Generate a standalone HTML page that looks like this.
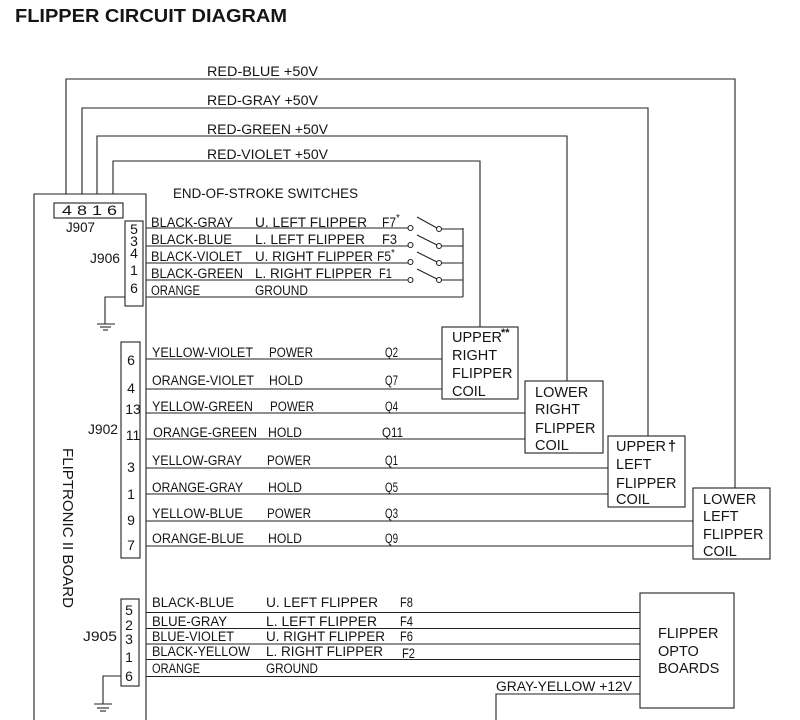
<!DOCTYPE html>
<html><head><meta charset="utf-8"><style>
html,body{margin:0;padding:0;background:#fff;}
svg{display:block;}
text{font-family:"Liberation Sans",sans-serif;fill:#151515;}
</style></head><body>
<svg width="800" height="720" viewBox="0 0 800 720" xmlns="http://www.w3.org/2000/svg">
<rect width="800" height="720" fill="#fff"/>
<text x="15" y="22" font-size="18" font-weight="bold" textLength="272" lengthAdjust="spacingAndGlyphs">FLIPPER CIRCUIT DIAGRAM</text>

<g fill="none" stroke="#222" stroke-width="1.1">
<polyline points="66,194 66,79 735,79 735,488"/>
<polyline points="82,194 82,108 648,108 648,436"/>
<polyline points="97,194 97,136 567,136 567,381"/>
<polyline points="113,194 113,161 480,161 480,327"/>
<polyline points="34,720 34,194 146,194 146,720"/>
<rect x="54" y="203" width="69" height="15"/>
<rect x="125" y="221" width="18" height="85"/>
<line x1="146" y1="228" x2="408" y2="228"/>
<line x1="146" y1="246" x2="408" y2="246"/>
<line x1="146" y1="263" x2="408" y2="263"/>
<line x1="146" y1="280" x2="408" y2="280"/>
<line x1="146" y1="297" x2="463" y2="297"/>
<line x1="463" y1="228" x2="463" y2="297"/>
<circle cx="410.5" cy="228" r="2.5"/><circle cx="439" cy="229" r="2.5"/>
<circle cx="410.5" cy="245" r="2.5"/><circle cx="439" cy="246" r="2.5"/>
<circle cx="410.5" cy="262" r="2.5"/><circle cx="439" cy="263" r="2.5"/>
<circle cx="410.5" cy="280" r="2.5"/><circle cx="439" cy="280" r="2.5"/>
<line x1="441.5" y1="229" x2="463" y2="229"/>
<line x1="441.5" y1="246" x2="463" y2="246"/>
<line x1="441.5" y1="263" x2="463" y2="263"/>
<line x1="441.5" y1="280" x2="463" y2="280"/>
<line x1="417" y1="217" x2="437" y2="228"/>
<line x1="417" y1="235" x2="437" y2="245"/>
<line x1="417" y1="252" x2="437" y2="262"/>
<line x1="417" y1="269" x2="437" y2="279"/>
<polyline points="125,297 105,297 105,324"/>
<line x1="97" y1="324" x2="115" y2="324"/>
<line x1="100" y1="327" x2="111" y2="327"/>
<line x1="103" y1="330" x2="108" y2="330"/>
<rect x="121" y="342" width="19" height="216"/>
<line x1="146" y1="359" x2="442" y2="359"/>
<line x1="146" y1="389" x2="442" y2="389"/>
<line x1="146" y1="413" x2="525" y2="413"/>
<line x1="146" y1="439" x2="525" y2="439"/>
<line x1="146" y1="468" x2="608" y2="468"/>
<line x1="146" y1="494" x2="608" y2="494"/>
<line x1="146" y1="521" x2="693" y2="521"/>
<line x1="146" y1="546" x2="693" y2="546"/>
<rect x="442" y="327" width="76" height="72"/>
<rect x="525" y="381" width="78" height="72"/>
<rect x="608" y="436" width="77" height="71"/>
<rect x="693" y="488" width="77" height="71"/>
<rect x="121" y="599" width="18" height="87"/>
<line x1="146" y1="612.5" x2="640" y2="612.5"/>
<line x1="146" y1="628.5" x2="640" y2="628.5"/>
<line x1="146" y1="644" x2="640" y2="644"/>
<line x1="146" y1="659.5" x2="640" y2="659.5"/>
<line x1="146" y1="676.5" x2="640" y2="676.5"/>
<rect x="640" y="593" width="94" height="115"/>
<polyline points="496,720 496,694 640,694"/>
<polyline points="121,676 103,676 103,704"/>
<line x1="94" y1="704" x2="112" y2="704"/>
<line x1="97" y1="708" x2="109" y2="708"/>
<line x1="100" y1="711" x2="106" y2="711"/>
</g>

<g font-size="13.5">
<text x="207" y="76" textLength="111" lengthAdjust="spacingAndGlyphs">RED-BLUE  +50V</text>
<text x="207" y="105" textLength="111" lengthAdjust="spacingAndGlyphs">RED-GRAY  +50V</text>
<text x="207" y="134" textLength="121" lengthAdjust="spacingAndGlyphs">RED-GREEN  +50V</text>
<text x="207" y="159" textLength="121" lengthAdjust="spacingAndGlyphs">RED-VIOLET  +50V</text>
<text x="173" y="198" textLength="185" lengthAdjust="spacingAndGlyphs">END-OF-STROKE  SWITCHES</text>
<text x="62" y="215" font-size="14" textLength="55" lengthAdjust="spacingAndGlyphs">4  8  1  6</text>
<text x="66" y="232" font-size="14" textLength="29" lengthAdjust="spacingAndGlyphs">J907</text>
<text x="90" y="263" font-size="14" textLength="30" lengthAdjust="spacingAndGlyphs">J906</text>
</g>
<g font-size="14" text-anchor="middle">
<text x="134" y="234">5</text><text x="134" y="246">3</text><text x="134" y="258">4</text><text x="134" y="275">1</text><text x="134" y="293">6</text>
</g>
<g font-size="13.5">
<text x="151" y="227" textLength="82" lengthAdjust="spacingAndGlyphs">BLACK-GRAY</text>
<text x="255" y="227" textLength="112" lengthAdjust="spacingAndGlyphs">U.  LEFT  FLIPPER</text>
<text x="382" y="227" textLength="14" lengthAdjust="spacingAndGlyphs">F7</text><text x="396" y="221" font-size="10">*</text>
<text x="151" y="244" textLength="81" lengthAdjust="spacingAndGlyphs">BLACK-BLUE</text>
<text x="255" y="244" textLength="110" lengthAdjust="spacingAndGlyphs">L.  LEFT  FLIPPER</text>
<text x="382" y="244" textLength="15" lengthAdjust="spacingAndGlyphs">F3</text>
<text x="151" y="261" textLength="91" lengthAdjust="spacingAndGlyphs">BLACK-VIOLET</text>
<text x="255" y="261" textLength="118" lengthAdjust="spacingAndGlyphs">U.  RIGHT  FLIPPER</text>
<text x="377" y="261" textLength="14" lengthAdjust="spacingAndGlyphs">F5</text><text x="391" y="256" font-size="10">*</text>
<text x="151" y="278" textLength="92" lengthAdjust="spacingAndGlyphs">BLACK-GREEN</text>
<text x="255" y="278" textLength="117" lengthAdjust="spacingAndGlyphs">L.  RIGHT  FLIPPER</text>
<text x="379" y="278" textLength="13" lengthAdjust="spacingAndGlyphs">F1</text>
<text x="151" y="295" textLength="49" lengthAdjust="spacingAndGlyphs">ORANGE</text>
<text x="255" y="295" textLength="53" lengthAdjust="spacingAndGlyphs">GROUND</text>
</g>

<text x="88" y="434" font-size="14" textLength="30" lengthAdjust="spacingAndGlyphs">J902</text>
<g font-size="14" text-anchor="middle">
<text x="131" y="365">6</text><text x="131" y="393">4</text><text x="133" y="414">13</text><text x="133" y="440">11</text>
<text x="131" y="472">3</text><text x="131" y="499">1</text><text x="131" y="525">9</text><text x="131" y="550">7</text>
</g>
<g font-size="13.5">
<text x="152" y="357" textLength="101" lengthAdjust="spacingAndGlyphs">YELLOW-VIOLET</text><text x="269" y="357" textLength="44" lengthAdjust="spacingAndGlyphs">POWER</text><text x="385" y="357" textLength="13" lengthAdjust="spacingAndGlyphs">Q2</text>
<text x="152" y="385" textLength="102" lengthAdjust="spacingAndGlyphs">ORANGE-VIOLET</text><text x="269" y="385" textLength="34" lengthAdjust="spacingAndGlyphs">HOLD</text><text x="385" y="385" textLength="13" lengthAdjust="spacingAndGlyphs">Q7</text>
<text x="152" y="411" textLength="101" lengthAdjust="spacingAndGlyphs">YELLOW-GREEN</text><text x="270" y="411" textLength="44" lengthAdjust="spacingAndGlyphs">POWER</text><text x="385" y="411" textLength="13" lengthAdjust="spacingAndGlyphs">Q4</text>
<text x="153" y="437" textLength="104" lengthAdjust="spacingAndGlyphs">ORANGE-GREEN</text><text x="268" y="437" textLength="34" lengthAdjust="spacingAndGlyphs">HOLD</text><text x="382" y="437" textLength="21" lengthAdjust="spacingAndGlyphs">Q11</text>
<text x="152" y="465" textLength="90" lengthAdjust="spacingAndGlyphs">YELLOW-GRAY</text><text x="267" y="465" textLength="44" lengthAdjust="spacingAndGlyphs">POWER</text><text x="385" y="465" textLength="13" lengthAdjust="spacingAndGlyphs">Q1</text>
<text x="152" y="492" textLength="91" lengthAdjust="spacingAndGlyphs">ORANGE-GRAY</text><text x="268" y="492" textLength="34" lengthAdjust="spacingAndGlyphs">HOLD</text><text x="385" y="492" textLength="13" lengthAdjust="spacingAndGlyphs">Q5</text>
<text x="152" y="518" textLength="91" lengthAdjust="spacingAndGlyphs">YELLOW-BLUE</text><text x="267" y="518" textLength="44" lengthAdjust="spacingAndGlyphs">POWER</text><text x="385" y="518" textLength="13" lengthAdjust="spacingAndGlyphs">Q3</text>
<text x="152" y="543" textLength="92" lengthAdjust="spacingAndGlyphs">ORANGE-BLUE</text><text x="268" y="543" textLength="34" lengthAdjust="spacingAndGlyphs">HOLD</text><text x="385" y="543" textLength="13" lengthAdjust="spacingAndGlyphs">Q9</text>
</g>

<g font-size="14.5">
<text x="452" y="342">UPPER</text><text x="501" y="336" font-size="11" font-weight="bold">**</text>
<text x="452" y="360">RIGHT</text><text x="452" y="378">FLIPPER</text><text x="452" y="396">COIL</text>
<text x="535" y="397">LOWER</text><text x="535" y="414">RIGHT</text><text x="535" y="433">FLIPPER</text><text x="535" y="450">COIL</text>
<text x="616" y="451">UPPER</text><text x="668" y="451" font-weight="bold">†</text>
<text x="616" y="469">LEFT</text><text x="616" y="488">FLIPPER</text><text x="616" y="504">COIL</text>
<text x="703" y="504">LOWER</text><text x="703" y="521">LEFT</text><text x="703" y="539">FLIPPER</text><text x="703" y="556">COIL</text>
<text x="658" y="638">FLIPPER</text><text x="658" y="656">OPTO</text><text x="658" y="673">BOARDS</text>
</g>

<text x="83" y="641" font-size="14" textLength="34" lengthAdjust="spacingAndGlyphs">J905</text>
<g font-size="14" text-anchor="middle">
<text x="129" y="615">5</text><text x="129" y="630">2</text><text x="129" y="644">3</text><text x="129" y="662">1</text><text x="129" y="681">6</text>
</g>
<g font-size="13.5">
<text x="152" y="607" textLength="82" lengthAdjust="spacingAndGlyphs">BLACK-BLUE</text><text x="266" y="607" textLength="112" lengthAdjust="spacingAndGlyphs">U.  LEFT  FLIPPER</text><text x="400" y="607" textLength="13" lengthAdjust="spacingAndGlyphs">F8</text>
<text x="152" y="626" textLength="75" lengthAdjust="spacingAndGlyphs">BLUE-GRAY</text><text x="266" y="626" textLength="111" lengthAdjust="spacingAndGlyphs">L.  LEFT  FLIPPER</text><text x="400" y="626" textLength="13" lengthAdjust="spacingAndGlyphs">F4</text>
<text x="152" y="641" textLength="82" lengthAdjust="spacingAndGlyphs">BLUE-VIOLET</text><text x="266" y="641" textLength="119" lengthAdjust="spacingAndGlyphs">U.  RIGHT  FLIPPER</text><text x="400" y="641" textLength="13" lengthAdjust="spacingAndGlyphs">F6</text>
<text x="152" y="656" textLength="98" lengthAdjust="spacingAndGlyphs">BLACK-YELLOW</text><text x="266" y="656" textLength="117" lengthAdjust="spacingAndGlyphs">L.  RIGHT  FLIPPER</text><text x="402" y="658" textLength="13" lengthAdjust="spacingAndGlyphs">F2</text>
<text x="152" y="673" textLength="48" lengthAdjust="spacingAndGlyphs">ORANGE</text><text x="266" y="673" textLength="52" lengthAdjust="spacingAndGlyphs">GROUND</text>
<text x="496" y="691" textLength="136" lengthAdjust="spacingAndGlyphs">GRAY-YELLOW  +12V</text>
</g>

<text transform="translate(63,448) rotate(90)" font-size="15" textLength="160" lengthAdjust="spacingAndGlyphs">FLIPTRONIC  II  BOARD</text>
</svg>
</body></html>
